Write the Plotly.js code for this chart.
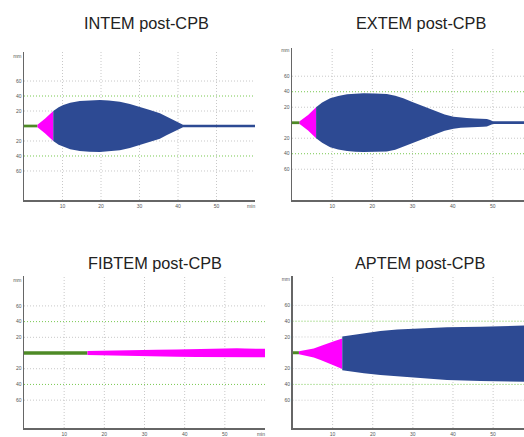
<!DOCTYPE html>
<html><head><meta charset="utf-8">
<script src="https://cdn.plot.ly/plotly-3.0.1.min.js"></script>
<style>html,body{margin:0;padding:0;background:#fff}#c{width:524px;height:437px}</style>
</head><body><div id="c"></div>
<script>
// ---- Data (time in min, amplitude in mm) ----
const panelTitles = ["INTEM post-CPB", "EXTEM post-CPB", "FIBTEM post-CPB", "APTEM post-CPB"];
const xTickVals = [10, 20, 30, 40, 50, 59];
const xTickText = ["10", "20", "30", "40", "50", "min"];
const yTickVals = [-60, -40, -20, 20, 40, 60, 93];
const yTickText = ["60", "40", "20", "20", "40", "60", "mm"];

// INTEM
const intemGreenT = [0, 3.5];
const intemGreenA = [1.8, 1.8];
const intemPinkT = [3.5, 5.5, 7.6];
const intemPinkA = [1.8, 10, 20];
const intemBlueT = [7.6, 9, 10.2, 12, 14.5, 17, 19.7, 22, 24.9, 27.5, 30.1, 32.7, 35.3, 37, 38.7, 40, 41.3, 60];
const intemBlueA = [20, 25, 28, 31, 33.3, 34.5, 34.8, 34, 32.4, 29.5, 25.8, 21.5, 17, 12.5, 8, 4.8, 1.8, 1.8];

// EXTEM
const extemGreenT = [0, 1.9];
const extemGreenA = [1.8, 1.8];
const extemPinkT = [1.9, 4, 6];
const extemPinkA = [1.8, 10, 20];
const extemBlueT = [6, 7.5, 9.5, 11.5, 13.7, 15.8, 17.8, 20.7, 23.6, 25.7, 27.7, 29.8, 31.9, 34, 36, 38, 40.2, 42, 43.5, 45.5, 47.6, 48.5, 49.3, 50, 57.8];
const extemBlueA = [20, 26, 31.5, 34.5, 36.6, 37.5, 37.9, 37.8, 37, 34.8, 31.5, 27, 22.8, 18.2, 14.2, 10.5, 7.7, 6.5, 6, 5.5, 5.2, 4.8, 3.5, 1.8, 1.8];

// FIBTEM
const fibtemGreenT = [0, 15.8];
const fibtemGreenA = [2.3, 2.3];
const fibtemPinkT = [15.8, 20, 25, 27, 28, 33, 38, 43, 48, 53, 55, 58, 60.5];
const fibtemPinkA = [2.6, 2.8, 3.0, 3.2, 3.8, 4.2, 4.6, 5.2, 5.6, 6.0, 5.6, 5.4, 5.4];

// APTEM (slightly asymmetric)
const aptemGreenT = [0, 1.6];
const aptemGreenA = [1.8, 1.8];
const aptemPinkT = [1.6, 3.5, 5.3, 7, 8.7, 10.5, 12.4];
const aptemPinkUp = [1.8, 3.5, 5.5, 8.5, 11.9, 15, 18.2];
const aptemPinkLo = [-1.8, -3.5, -6, -9, -12.5, -16.5, -20.6];
const aptemBlueT = [12.4, 13.7, 15.8, 17.8, 21.9, 26.1, 31.9, 38.5, 46.8, 55.1, 57.8];
const aptemBlueUp = [20.5, 21.5, 23.5, 25.3, 27.5, 29.6, 30.9, 32.2, 33, 34.2, 34.5];
const aptemBlueLo = [-22, -23.2, -24.8, -26, -28.2, -30.4, -32.4, -34.6, -35.8, -36.7, -36.8];

// ---- Styling ----
const GREEN = "#4e8a26", PINK = "#ff00ff", BLUE = "#2d4a93";
const W = 524, H = 437;

function band(t, up, lo, color, xa, ya) {
  const low = lo || up.map(v => -v);
  return {
    type: "scatter", mode: "lines", xaxis: xa, yaxis: ya,
    x: t.concat(t.slice().reverse()),
    y: up.concat(low.slice().reverse()),
    fill: "toself", fillcolor: color, line: {width: 0, color: color},
    hoverinfo: "skip", showlegend: false
  };
}

const traces = [
  band(intemGreenT, intemGreenA, null, GREEN, "x", "y"),
  band(intemPinkT, intemPinkA, null, PINK, "x", "y"),
  band(intemBlueT, intemBlueA, null, BLUE, "x", "y"),
  band(extemGreenT, extemGreenA, null, GREEN, "x2", "y2"),
  band(extemPinkT, extemPinkA, null, PINK, "x2", "y2"),
  band(extemBlueT, extemBlueA, null, BLUE, "x2", "y2"),
  band(fibtemGreenT, fibtemGreenA, null, GREEN, "x3", "y3"),
  band(fibtemPinkT, fibtemPinkA, null, PINK, "x3", "y3"),
  band(aptemGreenT, aptemGreenA, null, GREEN, "x4", "y4"),
  band(aptemPinkT, aptemPinkUp, aptemPinkLo, PINK, "x4", "y4"),
  band(aptemBlueT, aptemBlueUp, aptemBlueLo, BLUE, "x4", "y4")
];

// panel geometry in pixels: [left, right, top, bottom], x range, y range
const panels = [
  {px: [24, 255], py: [52, 200], xr: [0, 60], yr: [-98.7, 98.7]},
  {px: [292, 524], py: [48, 200], xr: [0, 57.75], yr: [-99.7, 96.4]},
  {px: [24, 265], py: [276, 428], xr: [0, 60], yr: [-95.5, 98.1]},
  {px: [292.5, 524], py: [276, 428], xr: [0, 57.7], yr: [-95.2, 97.2]}
];
const titlePos = [[146.5, 23.5], [421, 23], [155, 263], [420, 262.5]];

const layout = {
  width: W, height: H, margin: {l: 0, r: 0, t: 0, b: 0},
  paper_bgcolor: "#fff", plot_bgcolor: "rgba(0,0,0,0)",
  showlegend: false, shapes: [], annotations: []
};

panels.forEach((p, i) => {
  const n = i === 0 ? "" : String(i + 1);
  layout["xaxis" + n] = {
    domain: [p.px[0] / W, p.px[1] / W], range: p.xr, anchor: "y" + n,
    showgrid: false, zeroline: false, showline: true, linecolor: "#666", linewidth: 1.5,
    tickmode: "array", tickvals: xTickVals, ticktext: xTickText, ticks: "",
    tickfont: {size: 5, color: "#555", family: "Liberation Sans, Arial"}, fixedrange: true
  };
  layout["yaxis" + n] = {
    domain: [1 - p.py[1] / H, 1 - p.py[0] / H], range: p.yr, anchor: "x" + n,
    showgrid: false, zeroline: false, showline: true, linecolor: "#666", linewidth: 1.5,
    tickmode: "array", tickvals: yTickVals, ticktext: yTickText, ticks: "",
    tickfont: {size: 5, color: "#555", family: "Liberation Sans, Arial"}, fixedrange: true
  };
  const xr = "x" + n, yr = "y" + n;
  [-60, -40, -20, 20, 40, 60].forEach(v => {
    const green = Math.abs(v) === 40;
    layout.shapes.push({type: "line", layer: "below", xref: xr + " domain", yref: yr,
      x0: 0, x1: 1, y0: v, y1: v,
      line: {color: green ? "#78c850" : "#c8c8c8", width: 1, dash: "1px,2px"}});
  });
  [10, 20, 30, 40, 50].forEach(v => {
    layout.shapes.push({type: "line", layer: "below", xref: xr, yref: yr + " domain",
      x0: v, x1: v, y0: 0, y1: 1,
      line: {color: "#c8c8c8", width: 1, dash: "1px,2px"}});
  });
  layout.annotations.push({
    text: panelTitles[i], xref: "paper", yref: "paper",
    x: titlePos[i][0] / W, y: 1 - titlePos[i][1] / H, xanchor: "center", yanchor: "middle",
    showarrow: false, font: {size: 16.3, color: "#222", family: "Liberation Sans, Arial"}
  });
});

Plotly.newPlot("c", traces, layout, {staticPlot: true, displayModeBar: false});
</script>
</body></html>
